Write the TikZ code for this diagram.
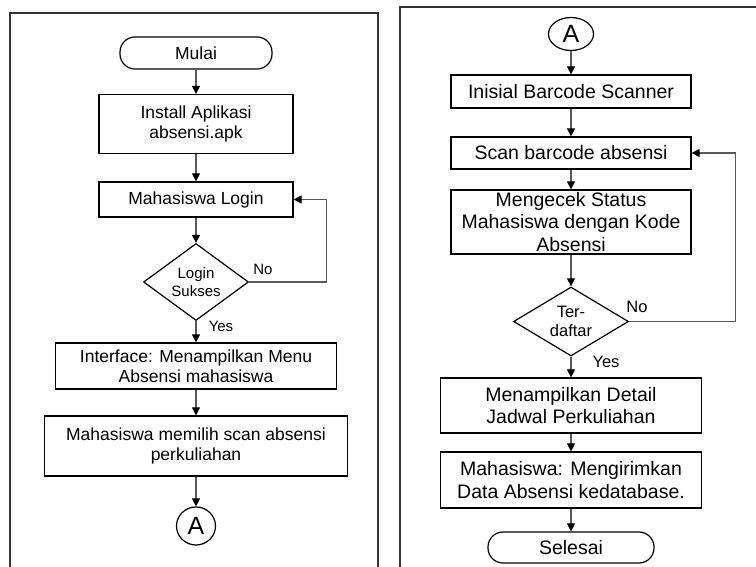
\documentclass[tikz,border=0pt]{standalone}
\usepackage{fontspec}
\setmainfont{Liberation Sans}
\usetikzlibrary{arrows.meta}
\usetikzlibrary{shapes}
\tikzset{
        flownode/.style={align=center,inner sep=0pt,draw=black,line width=1.2pt},
        % Process boxes
        node_process/.style={flownode, rectangle},
        % Start and end
        node_terminal/.style={flownode, rectangle, rounded corners=15pt},
        % Decisions
        node_decision/.style={flownode, diamond, inner sep=0pt},
        % Off-page connector
        node_connector/.style={flownode, ellipse, font=\fontsize{25}{25}\selectfont},
        % Yes / No labels
        node_label/.style={inner sep=0pt},
        % Connectors
        conn/.style={draw=black!65, line width=1.1pt, -{Triangle[width=8pt,length=8pt,black]}},
        % Panel frames
        frame/.style={draw=black!80, line width=2pt}
}
\newcommand{\lsize}{\fontsize{17.5}{20.1}\selectfont}
\newcommand{\rsize}{\fontsize{19.5}{22.2}\selectfont}

\begin{document}
\begin{tikzpicture}[x=1pt, y=-1pt]
            \useasboundingbox (0,0) rectangle (756,567);
            \draw[frame] (10,567) -- (10,13) -- (378,13) -- (378,567);
            \draw[frame] (400,567) -- (400,7) -- (756,7);

            \node[node_terminal, minimum width=152pt, minimum height=32pt, font=\lsize] (mulai) at (196,53) {Mulai};
            \node[node_process, minimum width=194pt, minimum height=59pt, font=\lsize] (install) at (196,124) {Install Aplikasi\\absensi.apk};
            \node[node_process, minimum width=194pt, minimum height=35pt, font=\lsize] (login) at (196,199.5) {Mahasiswa Login};
            \node[node_decision, minimum width=105pt, minimum height=77pt, aspect=1.36, font=\fontsize{15}{17.5}\selectfont] (sukses) at (196,282) {Login\\Sukses};
            \node[node_process, minimum width=281pt, minimum height=46pt, font=\lsize] (menu) at (196,366) {Interface: Menampilkan Menu\\Absensi mahasiswa};
            \node[node_process, minimum width=303pt, minimum height=60pt, font=\lsize] (pilih) at (196,446) {Mahasiswa memilih scan absensi\\perkuliahan};
            \node[node_connector, minimum width=39pt, minimum height=38pt] (a_out) at (196,526) {A};
            \node[node_label, font=\fontsize{15}{15}\selectfont] (no_login) at (263,269) {No};
            \node[node_label, font=\fontsize{15}{15}\selectfont] (yes_login) at (221,326) {Yes};

            \draw[conn] (mulai) -- (install);
            \draw[conn] (install) -- (login);
            \draw[conn] (login) -- (sukses);
            \draw[conn] (sukses) -- (menu);
            \draw[conn] (menu) -- (pilih);
            \draw[conn] (pilih) -- (a_out);
            \draw[conn] (sukses.east) -- ++(77,0) |- (login.east);

            \node[node_connector, minimum width=45pt, minimum height=33pt] (a_in) at (571,34) {A};
            \node[node_process, minimum width=240pt, minimum height=33pt, font=\rsize] (inisial) at (571,91.5) {Inisial Barcode Scanner};
            \node[node_process, minimum width=240pt, minimum height=32pt, font=\rsize] (scan) at (571,153) {Scan barcode absensi};
            \node[node_process, minimum width=240pt, minimum height=64pt, font=\rsize] (cek) at (571,222) {Mengecek Status\\Mahasiswa dengan Kode\\Absensi};
            \node[node_decision, minimum width=115pt, minimum height=69pt, aspect=1.67, font=\fontsize{16.5}{19}\selectfont] (terdaftar) at (571,321.5) {Ter-\\daftar};
            \node[node_process, minimum width=261pt, minimum height=55pt, font=\rsize] (detail) at (571,405.5) {Menampilkan Detail\\Jadwal Perkuliahan};
            \node[node_process, minimum width=261pt, minimum height=56pt, font=\rsize] (kirim) at (571,480) {Mahasiswa: Mengirimkan\\Data Absensi kedatabase.};
            \node[node_terminal, minimum width=166pt, minimum height=31pt, font=\rsize] (selesai) at (571,547.5) {Selesai};
            \node[node_label, font=\fontsize{16.5}{16.5}\selectfont] (no_daftar) at (637,307) {No};
            \node[node_label, font=\fontsize{16.5}{16.5}\selectfont] (yes_daftar) at (606,362) {Yes};

            \draw[conn] (a_in) -- (inisial);
            \draw[conn] (inisial) -- (scan);
            \draw[conn] (scan) -- (cek);
            \draw[conn] (cek) -- (terdaftar);
            \draw[conn] (terdaftar) -- (detail);
            \draw[conn] (detail) -- (kirim);
            \draw[conn] (kirim) -- (selesai);
            \draw[conn] (terdaftar.east) -- ++(106,0) |- (scan.east);
        \end{tikzpicture}
\end{document}
